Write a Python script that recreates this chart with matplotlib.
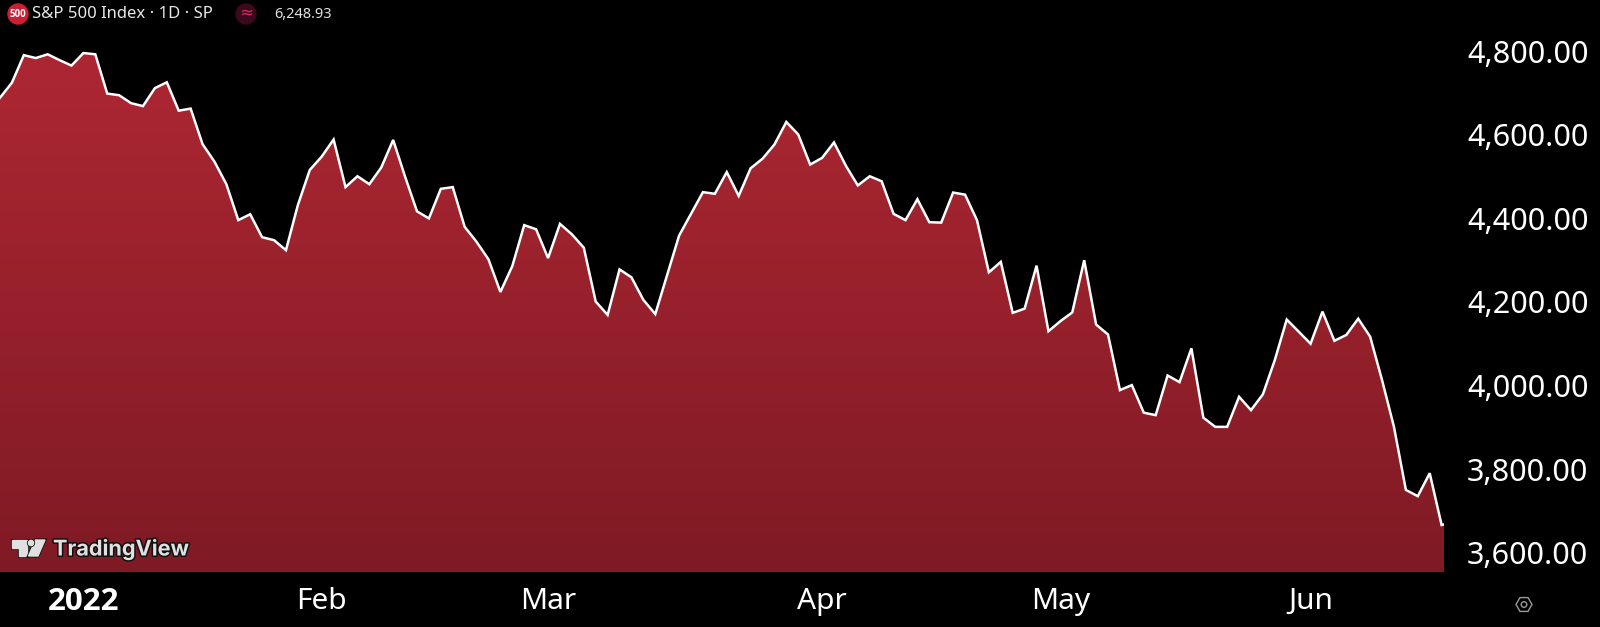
import numpy as np
import matplotlib
matplotlib.use("Agg")
import matplotlib.pyplot as plt
import matplotlib.patheffects as pe
from matplotlib.colors import LinearSegmentedColormap
from matplotlib.patches import Circle, Polygon

plt.rcParams['font.family'] = ['Noto Sans', 'DejaVu Sans']

# daily closes
closes = [
    4689, 4725, 4791, 4784, 4793, 4779, 4766, 4796, 4793, 4699,
    4695, 4676, 4669, 4712, 4726, 4658, 4663, 4578, 4536, 4482,
    4396, 4410, 4355, 4348, 4324, 4432, 4516, 4548, 4589, 4475,
    4501, 4482, 4522, 4588, 4500, 4417, 4400, 4471, 4475, 4380,
    4344, 4302, 4224, 4286, 4384, 4374, 4305, 4387, 4362, 4330,
    4201, 4169, 4278, 4259, 4205, 4171, 4265, 4359, 4411, 4463,
    4459, 4511, 4454, 4520, 4543, 4577, 4631, 4601, 4529, 4545,
    4582, 4526, 4479, 4501, 4489, 4411, 4396, 4446, 4391, 4390,
    4462, 4457, 4396, 4271, 4296, 4174, 4184, 4287, 4130, 4154,
    4175, 4300, 4146, 4122, 3989, 4001, 3935, 3929, 4024, 4008,
    4089, 3923, 3901, 3901, 3973, 3941, 3979, 4061, 4158, 4129,
    4100, 4177, 4107, 4121, 4160, 4117, 4013, 3901, 3750, 3735,
    3790, 3666, 3673,
]
price_ticks = [3600, 3800, 4000, 4200, 4400, 4600, 4800]
month_pos = [7, 27, 46, 69, 89, 110]
month_names = ["2022", "Feb", "Mar", "Apr", "May", "Jun"]

W, H = 1600, 627
fig = plt.figure(figsize=(W / 100, H / 100), dpi=100, facecolor="black")
ax = fig.add_axes([0, 1 - 572 / H, 1444 / W, 572 / H], facecolor="black")

x = np.arange(len(closes))
ymin, ymax = 3553.5, 4923
ax.set_xlim(0, 121.2)
ax.set_ylim(ymin, ymax)

# gradient fill clipped to the area under the line
cmap = LinearSegmentedColormap.from_list("fill", ["#7f1a24", "#ad2733"])
grad = np.linspace(0, 1, 256).reshape(-1, 1)
img = ax.imshow(grad, origin="lower", cmap=cmap, aspect="auto",
                extent=[0, 121.2, ymin, max(closes)], zorder=1)
area = ax.fill_between(x, closes, ymin, color="none", lw=0)
img.set_clip_path(area.get_paths()[0], transform=ax.transData)
ax.set_xlim(0, 121.2)
ax.set_ylim(ymin, ymax)
ax.plot(x, closes, color="white", lw=1.8, zorder=2, solid_joinstyle="miter")

for s in ax.spines.values():
    s.set_visible(False)
ax.yaxis.tick_right()
ax.set_yticks(price_ticks)
ax.set_yticklabels([f"{p:,.2f}" for p in price_ticks])
ax.set_xticks(month_pos)
ax.set_xticklabels(month_names)
ax.tick_params(axis="y", length=0, pad=16.5, labelsize=22, labelcolor="white")
ax.tick_params(axis="x", length=0, pad=11, labelsize=21.5, labelcolor="white")
first = ax.get_xticklabels()[0]
first.set_family("Open Sans")
first.set_fontweight("bold")
first.set_fontsize(22.5)

# header, watermark and settings icon, in pixel coordinates
top = fig.add_axes([0, 0, 1, 1], facecolor="none")
top.set_xlim(0, W)
top.set_ylim(H, 0)
top.axis("off")

top.add_patch(Circle((18, 14), 10, color="#cc1f33"))
top.text(18, 14.5, "500", color="white", fontsize=7, family="Open Sans", fontweight="bold", ha="center", va="center")
top.text(32, 14, "S&P 500 Index · 1D · SP", color="#e8e8e8", fontsize=12, ha="left", va="center")
top.add_patch(Circle((246, 14), 10, color="#3a0a1c"))
top.text(246, 13.5, "≈", color="#e0245e", fontsize=12, ha="center", va="center")
top.text(274, 14, "6,248.93", color="#e0e0e0", fontsize=10.5, ha="left", va="center")

outline = [pe.withStroke(linewidth=2.2, foreground="#111111")]
logo = [
    [(11.5, 540), (27, 540), (27, 556), (19, 556), (19, 548), (11.5, 548)],
    [(35.5, 540), (45, 540), (38, 556), (28.5, 556)],
]
for pts in logo:
    p = Polygon(pts, closed=True, color="#e0e0e0", zorder=3)
    p.set_path_effects(outline)
    top.add_patch(p)
dot = Circle((31, 543), 2.6, color="#e0e0e0", zorder=3)
dot.set_path_effects(outline)
top.add_patch(dot)
top.text(53, 549, "TradingView", color="#e0e0e0", fontsize=15.6, family="Inter", fontweight="bold",
         ha="left", va="center", path_effects=outline, zorder=3)

ang = np.deg2rad(np.arange(0, 360, 60))
top.add_patch(Polygon(np.c_[1524 + 8 * np.cos(ang), 604.5 + 8 * np.sin(ang)], closed=True,
                      fill=False, ec="#9a9a9a", lw=1))
top.add_patch(Circle((1524, 604.5), 2.8, fill=False, ec="#9a9a9a", lw=1))

fig.savefig("out.png", dpi=100, facecolor="black")
